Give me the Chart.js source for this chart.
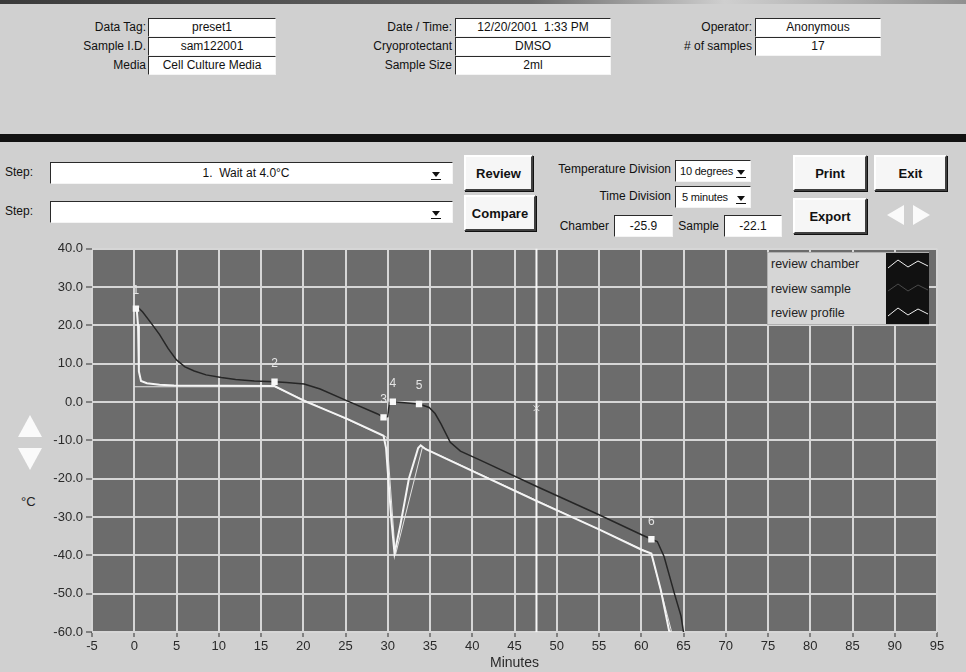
<!DOCTYPE html>
<html>
<head>
<meta charset="utf-8">
<script src="https://cdn.jsdelivr.net/npm/chart.js@4.4.0/dist/chart.umd.min.js"></script>
<style>
body { margin:0; width:966px; height:672px; overflow:hidden; background:#d0d0d0; font-family:"Liberation Sans", Arial, sans-serif; font-size:12px; color:#111; position:relative; }
.lbl { position:absolute; left:0; text-align:right; white-space:nowrap; line-height:19px; }
.box { position:absolute; background:#fff; border:1px solid; border-color:#2a2a2a #f4f4f4 #f4f4f4 #2a2a2a; text-align:center; box-sizing:border-box; white-space:nowrap; line-height:17px; height:19px; }
.combo { position:absolute; background:#fff; border:1px solid; border-color:#2a2a2a #f4f4f4 #f4f4f4 #2a2a2a; box-sizing:border-box; white-space:nowrap; }
.small { font-size:11px; letter-spacing:-0.2px; }
.btn { position:absolute; background:#f6f6f6; border:2px solid; border-color:#fff #404040 #404040 #fff; box-sizing:border-box; font-weight:bold; font-size:13px; display:flex; align-items:center; justify-content:center; box-shadow:1px 1px 0 #111; }
.arrow { position:absolute; width:0; height:0; border-left:4px solid transparent; border-right:4px solid transparent; border-top:5px solid #111; }
.uline { position:absolute; width:10px; height:1px; background:#111; }
#wrap { position:absolute; left:0; top:238px; width:966px; height:434px; }
</style>
</head>
<body>
<!-- header panel -->
<div style="position:absolute;left:0;top:0;width:966px;height:4px;background:linear-gradient(to right,#3a3a3a,#6a6a6a 55%,#cfcfcf 75%,#909090)"></div>
<div style="position:absolute;left:0;top:134px;width:966px;height:8px;background:#121212"></div>

<div class="lbl" style="top:18px;width:146px">Data Tag:</div>
<div class="box" style="left:148px;top:18px;width:128px">preset1</div>
<div class="lbl" style="top:37px;width:146px">Sample I.D.</div>
<div class="box" style="left:148px;top:37px;width:128px">sam122001</div>
<div class="lbl" style="top:56px;width:146px">Media</div>
<div class="box" style="left:148px;top:56px;width:128px">Cell Culture Media</div>

<div class="lbl" style="top:18px;width:452px">Date / Time:</div>
<div class="box" style="left:455px;top:18px;width:156px">12/20/2001&nbsp; 1:33 PM</div>
<div class="lbl" style="top:37px;width:452px">Cryoprotectant</div>
<div class="box" style="left:455px;top:37px;width:156px">DMSO</div>
<div class="lbl" style="top:56px;width:452px">Sample Size</div>
<div class="box" style="left:455px;top:56px;width:156px">2ml</div>

<div class="lbl" style="top:18px;width:752px">Operator:</div>
<div class="box" style="left:755px;top:18px;width:126px">Anonymous</div>
<div class="lbl" style="top:37px;width:752px"># of samples</div>
<div class="box" style="left:755px;top:37px;width:126px">17</div>

<!-- controls -->
<div class="lbl" style="top:163px;left:5px;text-align:left">Step:</div>
<div class="combo" style="left:50px;top:162px;width:403px;height:22px;line-height:20px">
  <div style="position:absolute;left:0;width:390px;text-align:center">1.&nbsp; Wait at 4.0°C</div>
  <div class="arrow" style="left:381px;top:9px"></div><div class="uline" style="left:380px;top:16px"></div>
</div>
<div class="lbl" style="top:202px;left:5px;text-align:left">Step:</div>
<div class="combo" style="left:50px;top:201px;width:403px;height:22px">
  <div class="arrow" style="left:381px;top:9px"></div><div class="uline" style="left:380px;top:16px"></div>
</div>

<div class="btn" style="left:464px;top:155px;width:69px;height:36px">Review</div>
<div class="btn" style="left:464px;top:195px;width:72px;height:36px">Compare</div>

<div class="lbl" style="top:160px;width:671px">Temperature Division</div>
<div class="combo small" style="left:675px;top:160px;width:76px;height:22px;line-height:20px;padding-left:4px">10 degrees
  <div class="arrow" style="left:61px;top:9px"></div><div class="uline" style="left:60px;top:16px"></div>
</div>
<div class="lbl" style="top:187px;width:671px">Time Division</div>
<div class="combo small" style="left:675px;top:186px;width:76px;height:22px;line-height:20px;padding-left:6px">5 minutes
  <div class="arrow" style="left:61px;top:9px"></div><div class="uline" style="left:60px;top:16px"></div>
</div>
<div class="lbl" style="top:217px;width:609px">Chamber</div>
<div class="box" style="left:614px;top:215px;width:59px;height:22px;line-height:20px">-25.9</div>
<div class="lbl" style="top:217px;width:719px">Sample</div>
<div class="box" style="left:724px;top:215px;width:58px;height:22px;line-height:20px">-22.1</div>

<div class="btn" style="left:793px;top:155px;width:74px;height:36px">Print</div>
<div class="btn" style="left:874px;top:155px;width:73px;height:36px">Exit</div>
<div class="btn" style="left:793px;top:198px;width:74px;height:36px">Export</div>
<div style="position:absolute;left:887px;top:205px;width:0;height:0;border-top:10px solid transparent;border-bottom:10px solid transparent;border-right:17px solid #fafafa"></div>
<div style="position:absolute;left:913px;top:205px;width:0;height:0;border-top:10px solid transparent;border-bottom:10px solid transparent;border-left:17px solid #fafafa"></div>

<div style="position:absolute;left:18px;top:415px;width:0;height:0;border-left:12px solid transparent;border-right:12px solid transparent;border-bottom:22px solid #fafafa"></div>
<div style="position:absolute;left:18px;top:448px;width:0;height:0;border-left:12px solid transparent;border-right:12px solid transparent;border-top:22px solid #fafafa"></div>
<div style="position:absolute;left:21px;top:494px;font-size:13px;color:#222">°C</div>

<div id="wrap"><canvas id="cryoChart"></canvas></div>

<!-- legend -->
<div style="position:absolute;left:767px;top:252px;width:162px;height:73px;background:#d6d6d6;border:1px solid #b0b0b0;box-sizing:border-box;font-size:12.5px;color:#222">
  <div style="position:absolute;left:3px;top:4px">review chamber</div>
  <div style="position:absolute;left:3px;top:29px">review sample</div>
  <div style="position:absolute;left:3px;top:53px">review profile</div>
  <svg style="position:absolute;left:118px;top:0" width="43" height="71">
    <rect x="0" y="0" width="43" height="71" fill="#111"/>
    <polyline points="2,15 12,7 22,14 32,8 42,13" fill="none" stroke="#f0f0f0" stroke-width="1"/>
    <polyline points="2,38 12,31 22,38 32,32 42,37" fill="none" stroke="#4a4a4a" stroke-width="1"/>
    <polyline points="2,63 12,55 22,62 32,56 42,61" fill="none" stroke="#f0f0f0" stroke-width="1"/>
  </svg>
</div>

<script>
// x-axis / y-axis ticks
const minuteTicks = [-5, 0, 5, 10, 15, 20, 25, 30, 35, 40, 45, 50, 55, 60, 65, 70, 75, 80, 85, 90, 95];
const tempTicks = [40, 30, 20, 10, 0, -10, -20, -30, -40, -50, -60];

// chamber temperature (white trace)
const chamberMin  = [0.3, 0.45, 0.55, 0.8, 1.5, 3, 4.7, 16.6, 20.1, 25.2, 29.5, 29.8, 30.4, 30.8, 31.5, 32.5, 33.6, 33.9, 34.5, 38.6, 41, 47.7, 55, 60.1, 61.2, 62.3, 63.3, 63.5];
const chamberTemp = [24.0, 20, 8, 5.5, 4.9, 4.5, 4.3, 4.2, 0.3, -4.4, -8.8, -12, -30, -39.5, -32, -20, -12.0, -11.3, -12.3, -16.5, -19, -25.9, -33.2, -38.6, -39.5, -48.9, -59.7, -60];

// sample temperature (dark trace)
const sampleMin  = [0.4, 1, 2, 3, 4, 5, 6, 7.1, 8.5, 10.3, 12, 14.2, 16.6, 18, 20.1, 22, 25.2, 28.8, 29.5, 30.0, 30.2, 30.6, 33.7, 34.9, 35.6, 36.3, 37.4, 38.6, 41, 47.7, 55, 60.1, 61.2, 61.9, 62.7, 63.9, 64.7, 65];
const sampleTemp = [24.8, 23.5, 20.6, 17.6, 14, 11, 9.2, 8.1, 7.1, 6.4, 5.9, 5.5, 5.3, 5.1, 4.7, 3.4, 0.3, -3.1, -4.0, -3.8, 0, 0.1, -0.5, -1.4, -3, -5.7, -10.5, -12.8, -15.2, -22.1, -29.4, -34.7, -35.8, -36.4, -40.3, -49.8, -55.8, -60];

// profile (thin white trace)
const profileMin  = [0, 16.6, 29.9, 30.9, 34.1, 61.2, 63.6];
const profileTemp = [4.0, 4.0, -9.2, -40, -11.8, -39.6, -60];

// step markers
const stepNames = ['1', '2', '3', '4', '5', '6'];
const stepMin   = [0.2, 16.6, 29.5, 30.6, 33.7, 61.2];
const stepTemp  = [24.4, 5.3, -4.0, 0.1, -0.5, -35.8];

// review cursor
const cursorMin = 47.6;
const cursorTemp = -1.6;

const pts = (xs, ys) => xs.map((x, i) => ({ x: x, y: ys[i] }));

const plotArea = {
  id: 'plotArea',
  beforeDraw(chart) {
    const a = chart.chartArea, c = chart.ctx;
    c.save();
    c.fillStyle = '#6c6c6c';
    c.fillRect(a.left, a.top, a.right - a.left, a.bottom - a.top);
    c.restore();
  },
  beforeDatasetsDraw(chart) {
    const a = chart.chartArea, c = chart.ctx;
    const x = chart.scales.x.getPixelForValue(cursorMin);
    c.save();
    c.strokeStyle = '#f6f6f6';
    c.lineWidth = 2;
    c.beginPath();
    c.moveTo(x, a.top);
    c.lineTo(x, a.bottom);
    c.stroke();
    c.restore();
  },
  afterDatasetsDraw(chart) {
    const c = chart.ctx;
    const meta = chart.getDatasetMeta(0);
    c.save();
    c.fillStyle = '#e4e4e4';
    c.font = '12px "Liberation Sans", Arial, sans-serif';
    c.textAlign = 'center';
    c.textBaseline = 'middle';
    meta.data.forEach((el, i) => {
      c.fillText(stepNames[i], el.x, el.y - 18);
    });
    c.restore();
  }
};

const tickFont = { family: '"Liberation Sans", Arial, sans-serif', size: 13 };

new Chart(document.getElementById('cryoChart'), {
  type: 'scatter',
  data: {
    datasets: [
      {
        label: 'steps',
        data: pts(stepMin, stepTemp),
        pointStyle: 'rect',
        pointRadius: 4.5,
        backgroundColor: '#f8f8f8',
        borderWidth: 0
      },
      {
        label: 'cursor',
        data: [{ x: cursorMin, y: cursorTemp }],
        pointStyle: 'crossRot',
        pointRadius: 4,
        borderColor: '#e8e8e8',
        borderWidth: 1
      },
      {
        label: 'review sample',
        data: pts(sampleMin, sampleTemp),
        showLine: true,
        pointRadius: 0,
        borderColor: '#262626',
        borderWidth: 1.5
      },
      {
        label: 'review chamber',
        data: pts(chamberMin, chamberTemp),
        showLine: true,
        pointRadius: 0,
        borderColor: '#f4f4f4',
        borderWidth: 2
      },
      {
        label: 'review profile',
        data: pts(profileMin, profileTemp),
        showLine: true,
        pointRadius: 0,
        borderColor: '#e2e2e2',
        borderWidth: 1
      }
    ]
  },
  options: {
    responsive: true,
    maintainAspectRatio: false,
    animation: false,
    layout: { padding: { top: 8, right: 29, left: 0, bottom: 0 } },
    plugins: { legend: { display: false }, tooltip: { enabled: false } },
    scales: {
      x: {
        type: 'linear',
        min: -5, max: 95,
        afterBuildTicks(s) { s.ticks = minuteTicks.map(v => ({ value: v })); },
        ticks: { color: '#2a2a2a', font: tickFont, padding: 2, maxRotation: 0, autoSkip: false },
        grid: { color: '#d6d6d6', lineWidth: 2, tickColor: '#333', tickLength: 5, tickWidth: 1 },
        border: { display: false },
        title: { display: true, text: 'Minutes', color: '#2a2a2a', font: { family: tickFont.family, size: 14 }, padding: 0 },
        afterFit(s) { s.height = 40; }
      },
      y: {
        min: -60, max: 40,
        afterBuildTicks(s) { s.ticks = tempTicks.map(v => ({ value: v })); },
        ticks: { color: '#2a2a2a', font: tickFont, padding: 3, callback: v => v.toFixed(1) },
        grid: { color: '#d6d6d6', lineWidth: 2, tickColor: '#333', tickLength: 6, tickWidth: 1 },
        border: { display: false },
        afterFit(s) { s.width = 92; }
      }
    }
  },
  plugins: [plotArea]
});
</script>
</body>
</html>
